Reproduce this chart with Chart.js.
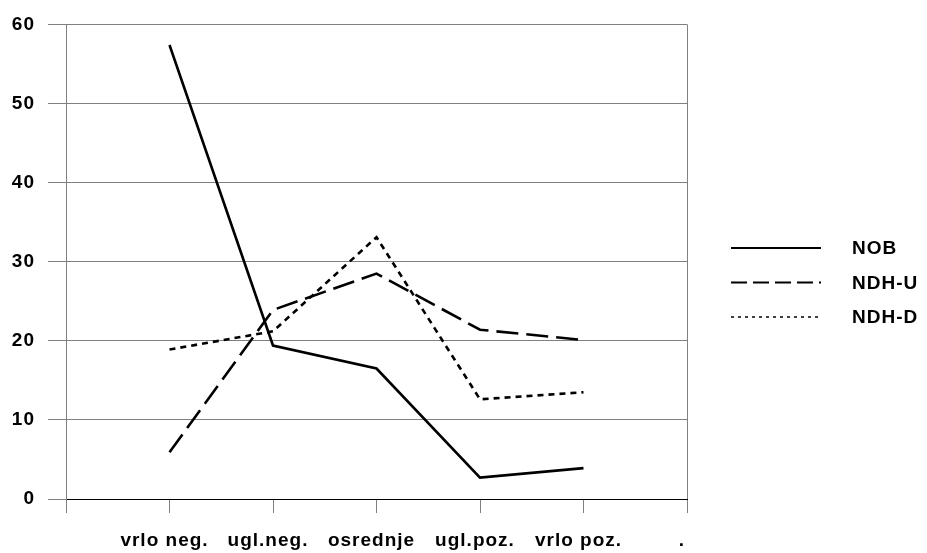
<!DOCTYPE html>
<html>
<head>
<meta charset="utf-8">
<script src="https://cdn.jsdelivr.net/npm/chart.js@4/dist/chart.umd.min.js"></script>
<style>
  html, body { margin: 0; padding: 0; background: #fff; }
  #wrap { width: 927px; height: 553px; }
</style>
</head>
<body>
<div id="wrap"><canvas id="lineChart"></canvas></div>
<script>
// categories (first slot empty, last one is just "." like in the original)
var categories = ["", "vrlo neg.", "ugl.neg.", "osrednje", "ugl.poz.", "vrlo poz.", "."];
var seriesNames = ["NOB", "NDH-U", "NDH-D"];
var nobValues = [57.4, 19.4, 16.5, 2.7, 3.9];
var ndhUValues = [5.9, 23.9, 28.5, 21.4, 20.1];
var ndhDValues = [18.9, 21.2, 33.1, 12.6, 13.5];
var yTicks = [0, 10, 20, 30, 40, 50, 60];

var gridGray = "#808080";
var labelFont = { family: "'Liberation Sans', Arial, sans-serif", size: 19, weight: "bold" };

// values sit on the 2nd..6th slot of the axis
function pad(values) {
  return [null].concat(values, [null]);
}

// old chart used a wide font, a bit of letter spacing gets close
// (canvas resize wipes the context state, so set it again before drawing)
function spaceLetters(chart) {
  if ("letterSpacing" in chart.ctx) chart.ctx.letterSpacing = "1px";
}
var wideText = {
  id: "wideText",
  beforeLayout: spaceLetters,
  beforeDraw: spaceLetters
};

// legend drawn on the right, using the dataset styles
var sideLegend = {
  id: "sideLegend",
  afterDraw: function (chart) {
    var ctx = chart.ctx;
    var area = chart.chartArea;
    var x0 = area.right + 44;
    var x1 = x0 + 90;
    var legendDash = [[], [16, 6], [3, 4]];
    var legendWidth = [2, 2, 1.5];
    ctx.save();
    chart.data.datasets.forEach(function (ds, i) {
      var y = 248 + i * 34.5;
      ctx.beginPath();
      ctx.setLineDash(legendDash[i]);
      ctx.lineWidth = legendWidth[i];
      ctx.strokeStyle = ds.borderColor;
      ctx.moveTo(x0, y);
      ctx.lineTo(x1, y);
      ctx.stroke();
      ctx.setLineDash([]);
      ctx.fillStyle = "#000";
      ctx.font = "bold 19px 'Liberation Sans', Arial, sans-serif";
      ctx.textBaseline = "middle";
      ctx.textAlign = "left";
      ctx.fillText(ds.label, x1 + 31, y + 1);
    });
    ctx.restore();
  }
};

lineCTX = document.getElementById("lineChart").getContext("2d");

chart = new Chart(lineCTX, {
  type: "line",
  data: {
    labels: categories,
    datasets: [{
      label: seriesNames[0],
      data: pad(nobValues),
      borderColor: "#000",
      borderWidth: 2.6,
      pointRadius: 0,
      tension: 0
    }, {
      label: seriesNames[1],
      data: pad(ndhUValues),
      borderColor: "#000",
      borderWidth: 2.6,
      borderDash: [22, 8],
      pointRadius: 0,
      tension: 0
    }, {
      label: seriesNames[2],
      data: pad(ndhDValues),
      borderColor: "#000",
      borderWidth: 2.6,
      borderDash: [6, 5],
      pointRadius: 0,
      tension: 0
    }]
  },
  options: {
    responsive: true,
    maintainAspectRatio: false,
    animation: false,
    layout: { padding: { top: 19, right: 240, bottom: 0, left: 0 } },
    plugins: {
      legend: { display: false },
      tooltip: { enabled: false }
    },
    scales: {
      x: {
        offset: false,
        grid: {
          drawTicks: true,
          tickLength: 14,
          tickColor: gridGray,
          color: function (c) {
            return (c.index === 0 || c.index === categories.length - 1) ? gridGray : "transparent";
          }
        },
        border: { display: true, color: "#000", width: 1 },
        ticks: {
          color: "#000",
          font: labelFont,
          padding: 16,
          labelOffset: -5,
          autoSkip: false,
          maxRotation: 0
        },
        afterFit: function (scale) { scale.height = 54; }
      },
      y: {
        min: 0,
        max: 60,
        grid: {
          drawTicks: true,
          tickLength: 18,
          tickColor: gridGray,
          color: function (c) {
            return c.tick && c.tick.value === 0 ? "#000" : gridGray;
          }
        },
        border: { display: true, color: gridGray },
        afterBuildTicks: function (scale) {
          scale.ticks = yTicks.map(function (v) { return { value: v }; });
        },
        ticks: {
          color: "#000",
          font: labelFont,
          padding: 13
        },
        afterFit: function (scale) { scale.width = 66; }
      }
    }
  },
  plugins: [wideText, sideLegend]
});
</script>
</body>
</html>
